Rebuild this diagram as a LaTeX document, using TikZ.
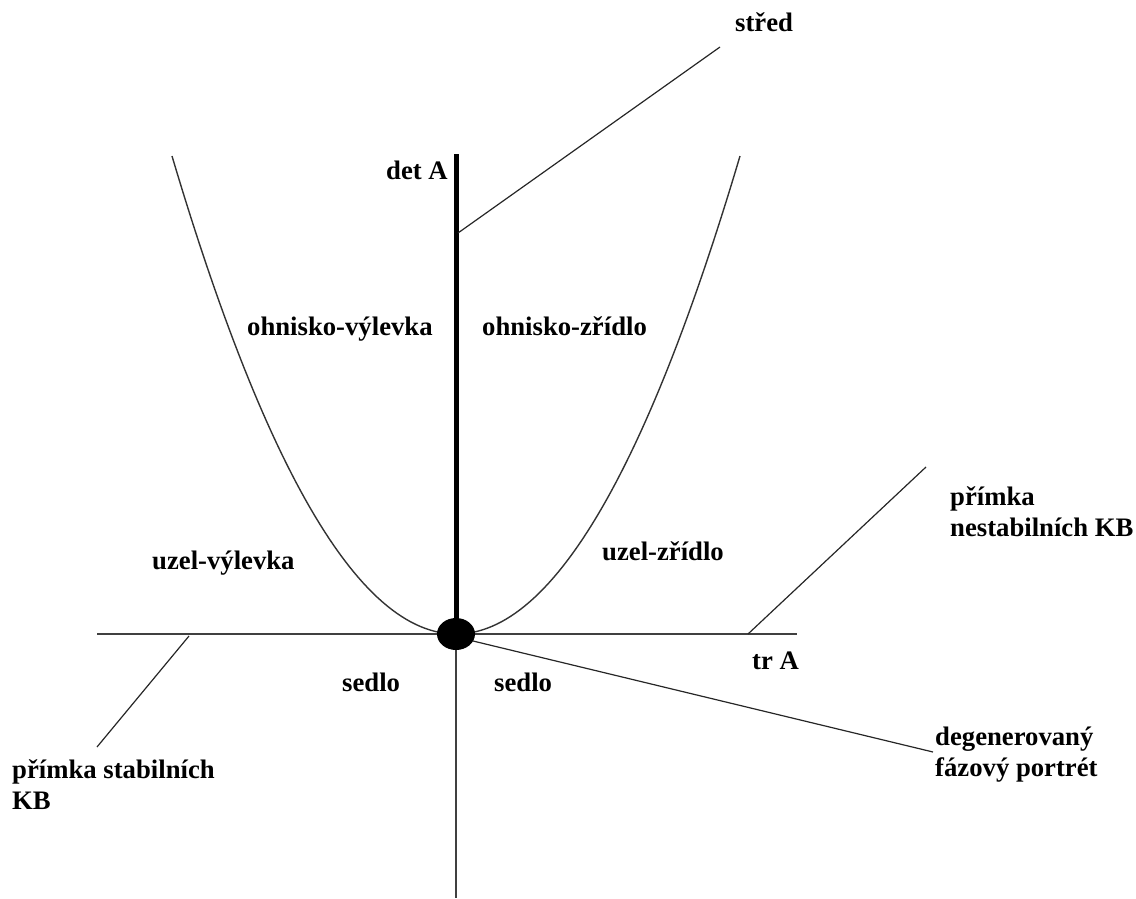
\documentclass[tikz,border=0pt]{standalone}
\usepackage{fontspec}
\setmainfont{Liberation Serif}
\usetikzlibrary{shapes.geometric}
\begin{document}
\begin{tikzpicture}[x=1pt,y=-1pt,
  lbl/.style={anchor=base west,inner sep=0pt,font=\fontsize{26.7}{31}\selectfont\bfseries,align=left},
  axis/.style={line width=2pt,draw=black!75},
  curve/.style={line width=1.4pt,draw=black!80},
  leader/.style={line width=1.2pt,draw=black!85}]
\useasboundingbox (0,0) rectangle (1136,899);

% axes
\coordinate (xl) at (97,634);
\coordinate (xr) at (797,634);
\coordinate (yb) at (456,898);
\coordinate (yt) at (456,154);
\coordinate (o) at (456,634);
\draw[axis] (xl) -- (xr);
\draw[axis] (o) -- (yb);
\draw[line width=5pt] (o) -- (yt);

% parabola det A = (tr A)^2 / 4
\draw[curve] plot[domain=-284:284,samples=120] ({456+\x},{634-(\x*0.07698)*(\x*0.07698)});

% origin
\node[ellipse,fill=black,minimum width=38pt,minimum height=32pt,inner sep=0pt] (dot) at (o) {};

% labels (multi-line labels are placed by the baseline of their last line)
\node[lbl] (det) at (386,179) {det A};
\node[lbl] (tr) at (752,669) {tr A};
\node[lbl] (stred) at (735,32) {střed};
\node[lbl] (ohv) at (247,335) {ohnisko-výlevka};
\node[lbl] (ohz) at (482,335) {ohnisko-zřídlo};
\node[lbl] (uzv) at (152,569) {uzel-výlevka};
\node[lbl] (uzz) at (602,560) {uzel-zřídlo};
\node[lbl] (sedl) at (342,691) {sedlo};
\node[lbl] (sedr) at (494,691) {sedlo};
\node[lbl] (nest) at (950,536) {přímka\\nestabilních KB};
\node[lbl] (stab) at (12,809) {přímka stabilních\\KB};
\node[lbl] (deg) at (935,776) {degenerovaný\\fázový portrét};

% leader lines
\coordinate (cs) at (458,233);
\coordinate (ce) at (720,47);
\draw[leader] (cs) -- (ce);
\coordinate (ns) at (748,634);
\coordinate (ne) at (926,467);
\draw[leader] (ns) -- (ne);
\coordinate (ss) at (189,636);
\coordinate (se) at (97,747);
\draw[leader] (ss) -- (se);
\coordinate (ds) at (473,641);
\coordinate (de) at (933,752);
\draw[leader] (ds) -- (de);
\end{tikzpicture}
\end{document}
